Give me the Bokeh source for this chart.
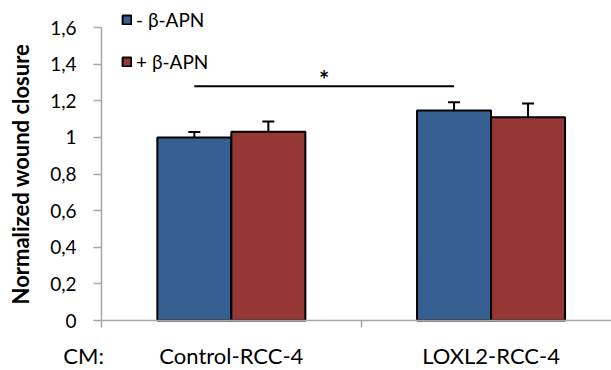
import math
from bokeh.plotting import figure
from bokeh.models import (ColumnDataSource, Whisker, TeeHead, FixedTicker, Legend,
                          Label, CustomJSTickFormatter, Range1d)
from bokeh.embed import file_html
from bokeh.resources import INLINE

# ---- data ----
categories = ["Control-RCC-4", "LOXL2-RCC-4"]
series_names = ["- β-APN", "+ β-APN"]
minus_apn = [1.00, 1.148]
plus_apn = [1.031, 1.111]
minus_err = [0.03, 0.045]
plus_err = [0.056, 0.075]
y_ticks = [0, 0.2, 0.4, 0.6, 0.8, 1.0, 1.2, 1.4, 1.6]
sig_y = 1.28
sig_mark = "*"
x_prefix = "CM:"
y_title = "Normalized wound closure"

BLUE = "#376092"
RED = "#953735"
AXIS = "#a6a6a6"
FONT = "Lato"

bar_w = 0.285
idx = list(range(len(categories)))
x_minus = [i + 0.5 - bar_w / 2 for i in idx]
x_plus = [i + 0.5 + bar_w / 2 for i in idx]

X0, X1 = -0.3889, 1.9638
Y0, Y1 = -0.2732, 1.7486

p = figure(width=611, height=370, output_backend="svg", toolbar_location=None,
           x_range=Range1d(X0, X1), y_range=Range1d(Y0, Y1), min_border=0)
p.outline_line_color = None
p.grid.grid_line_color = None
p.background_fill_color = "white"

src_m = ColumnDataSource(dict(x=x_minus, top=minus_apn,
                              upper=[v + e for v, e in zip(minus_apn, minus_err)]))
src_p = ColumnDataSource(dict(x=x_plus, top=plus_apn,
                              upper=[v + e for v, e in zip(plus_apn, plus_err)]))

r1 = p.vbar(x="x", top="top", width=bar_w, source=src_m, fill_color=BLUE,
            line_color="black", line_width=2)
r2 = p.vbar(x="x", top="top", width=bar_w, source=src_p, fill_color=RED,
            line_color="black", line_width=2)

for src in (src_m, src_p):
    w = Whisker(base="x", lower="top", upper="upper", source=src, line_color="black",
                line_width=2, lower_head=None,
                upper_head=TeeHead(size=12, line_width=2, line_color="black"))
    w.level = "overlay"
    p.add_layout(w)

# significance bar
p.segment(x0=[x_minus[0]], x1=[x_minus[1]], y0=[sig_y], y1=[sig_y],
          line_color="black", line_width=2)
p.add_layout(Label(x=(x_minus[0] + x_minus[1]) / 2, y=sig_y, text=sig_mark,
                   text_align="center", text_baseline="middle", y_offset=7,
                   text_font=FONT, text_font_size="24px", text_font_style="bold",
                   text_color="black"))

# y axis
ya = p.yaxis[0]
ya.fixed_location = 0
ya.ticker = FixedTicker(ticks=y_ticks)
ya.formatter = CustomJSTickFormatter(code="""
    const s = (Math.round(tick*10)/10).toString();
    return s.replace('.', ',');
""")
ya.bounds = (0, 1.6)
ya.axis_line_color = AXIS
ya.axis_line_width = 1.5
ya.major_tick_line_color = AXIS
ya.major_tick_line_width = 1.5
ya.major_tick_out = 8
ya.major_tick_in = 0
ya.minor_tick_line_color = None
ya.major_label_text_font = FONT
ya.major_label_text_font_size = "19px"
ya.major_label_text_color = "black"
ya.major_label_standoff = 17

# x axis
xa = p.xaxis[0]
xa.fixed_location = 0
xa.bounds = (0, X1)
xa.ticker = FixedTicker(ticks=[i + 0.5 for i in idx], minor_ticks=[0, 1, 2])
xa.major_label_overrides = {i + 0.5: c for i, c in zip(idx, categories)}
xa.axis_line_color = AXIS
xa.axis_line_width = 1.5
xa.major_tick_line_color = None
xa.major_tick_out = 0
xa.major_tick_in = 0
xa.minor_tick_line_color = AXIS
xa.minor_tick_line_width = 1.5
xa.minor_tick_out = 7
xa.minor_tick_in = 0
xa.major_label_text_font = FONT
xa.major_label_text_font_size = "22px"
xa.major_label_text_color = "black"
xa.major_label_standoff = 14

p.add_layout(Label(x=-0.069, y=-0.19, text=x_prefix, text_align="center",
                   text_baseline="middle", text_font=FONT, text_font_size="22px",
                   text_color="black"))
p.add_layout(Label(x=-0.31, y=0.8, text=y_title, angle=math.pi / 2,
                   text_align="center", text_baseline="middle", text_font=FONT,
                   text_font_size="22px", text_font_style="bold", text_color="black"))

legend = Legend(items=[(series_names[0], [r1]), (series_names[1], [r2])],
                location=(121, 297), glyph_width=11, glyph_height=11, label_standoff=4,
                spacing=19, padding=0, margin=0, border_line_alpha=0,
                background_fill_alpha=0, label_text_font=FONT,
                label_text_font_size="19px", label_text_color="black")
p.add_layout(legend)

open("out.html", "w").write(file_html(p, INLINE))
